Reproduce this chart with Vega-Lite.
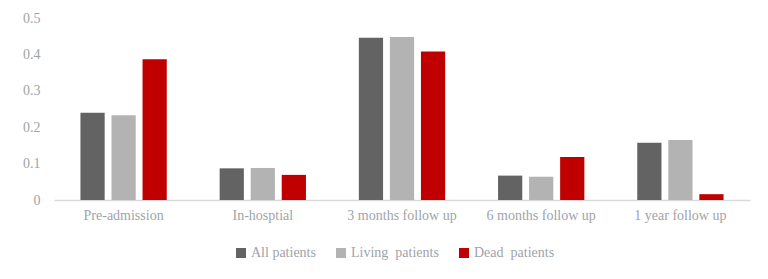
{
  "$schema": "https://vega.github.io/schema/vega-lite/v6.json",
  "autosize": "none",
  "width": 696,
  "height": 182,
  "padding": {"left": 54, "top": 18, "right": 18, "bottom": 79},
  "background": "white",
  "config": {
    "view": {"stroke": null},
    "font": "Times New Roman, Liberation Serif, serif"
  },
  "data": {
    "values": [
      {"stage": "Pre-admission", "group": "All patients", "value": 0.240},
      {"stage": "Pre-admission", "group": "Living \u00a0patients", "value": 0.233},
      {"stage": "Pre-admission", "group": "Dead \u00a0patients", "value": 0.387},
      {"stage": "In-hosptial", "group": "All patients", "value": 0.087},
      {"stage": "In-hosptial", "group": "Living \u00a0patients", "value": 0.088},
      {"stage": "In-hosptial", "group": "Dead \u00a0patients", "value": 0.069},
      {"stage": "3 months follow up", "group": "All patients", "value": 0.446},
      {"stage": "3 months follow up", "group": "Living \u00a0patients", "value": 0.448},
      {"stage": "3 months follow up", "group": "Dead \u00a0patients", "value": 0.408},
      {"stage": "6 months follow up", "group": "All patients", "value": 0.067},
      {"stage": "6 months follow up", "group": "Living \u00a0patients", "value": 0.064},
      {"stage": "6 months follow up", "group": "Dead \u00a0patients", "value": 0.118},
      {"stage": "1 year follow up", "group": "All patients", "value": 0.157},
      {"stage": "1 year follow up", "group": "Living \u00a0patients", "value": 0.165},
      {"stage": "1 year follow up", "group": "Dead \u00a0patients", "value": 0.016}
    ]
  },
  "mark": {"type": "bar"},
  "encoding": {
    "x": {
      "field": "stage",
      "type": "nominal",
      "sort": null,
      "scale": {"paddingInner": 0.38, "paddingOuter": 0.19},
      "axis": {
        "title": null,
        "labelAngle": 0,
        "ticks": false,
        "domainColor": "#d9d9d9",
        "domainWidth": 1.5,
        "labelColor": "#a0a3aa",
        "labelFont": "Times New Roman, Liberation Serif, serif",
        "labelFontSize": 14,
        "labelPadding": 8
      }
    },
    "xOffset": {
      "field": "group",
      "sort": null,
      "scale": {"paddingInner": 0.22}
    },
    "y": {
      "field": "value",
      "type": "quantitative",
      "scale": {"domain": [0, 0.5]},
      "axis": {
        "title": null,
        "values": [0, 0.1, 0.2, 0.3, 0.4, 0.5],
        "format": ".1~f",
        "grid": false,
        "domain": false,
        "ticks": false,
        "labelColor": "#a0a3aa",
        "labelFont": "Times New Roman, Liberation Serif, serif",
        "labelFontSize": 14,
        "labelPadding": 14
      }
    },
    "color": {
      "field": "group",
      "type": "nominal",
      "sort": null,
      "scale": {
        "domain": ["All patients", "Living \u00a0patients", "Dead \u00a0patients"],
        "range": ["#636363", "#b3b3b3", "#c00000"]
      },
      "legend": {
        "title": null,
        "orient": "none",
        "direction": "horizontal",
        "legendX": 180,
        "legendY": 228,
        "symbolType": "square",
        "symbolSize": 100,
        "symbolStrokeWidth": 0,
        "labelColor": "#a0a3aa",
        "labelFont": "Times New Roman, Liberation Serif, serif",
        "labelFontSize": 14,
        "labelOffset": 3,
        "columnPadding": 18
      }
    }
  }
}
